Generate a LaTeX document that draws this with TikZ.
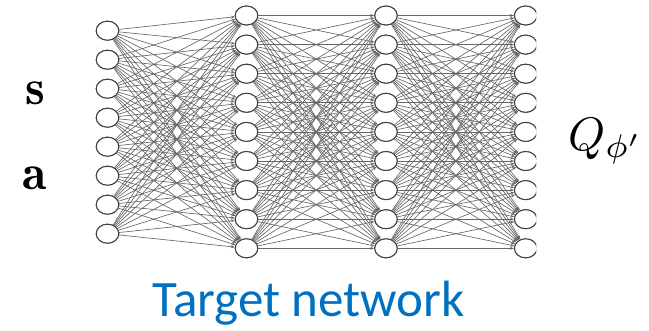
\documentclass[tikz,border=0pt]{standalone}
\usepackage{fontspec}
\usepackage{amsmath}
\usepackage{graphicx}
\newfontfamily\captionfont{Carlito}
\usetikzlibrary{shapes.geometric,arrows.meta}
\definecolor{capblue}{RGB}{0,112,192}
\tikzset{
  neuron/.style={ellipse, draw=black!75, line width=1pt, fill=white,
    minimum width=22.5pt, minimum height=19pt, inner sep=0pt},
  synapse/.style={draw=black!60, line width=0.65pt,
    -{Stealth[length=4pt,width=3pt]}},
}
\begin{document}
\begin{tikzpicture}[x=1pt,y=-1pt]
\useasboundingbox (0,0) rectangle (649,330);
\begin{scope}
  \clip (0,0) rectangle (536,270);
  % input layer (8 units) and three layers of 9 units
  \foreach \i in {1,...,8}
    \node[neuron] (a\i) at (107.5,{30.7+29*(\i-1)}) {};
  \foreach \name/\x in {b/246.5,c/386,d/525.7}
    \foreach \i in {1,...,9}
      \node[neuron] (\name\i) at (\x,{15.5+29.1*(\i-1)}) {};
  % full connections between consecutive layers
  \foreach \i in {1,...,8}
    \foreach \j in {1,...,9}
      \draw[synapse] (a\i) -- (b\j);
  \foreach \s/\t in {b/c,c/d}
    \foreach \i in {1,...,9}
      \foreach \j in {1,...,9}
        \draw[synapse] (\s\i) -- (\t\j);
  % redraw units on top of the connections
  \foreach \i in {1,...,8}
    \node[neuron] at (a\i) {};
  \foreach \name in {b,c,d}
    \foreach \i in {1,...,9}
      \node[neuron] at (\name\i) {};
\end{scope}
\node[font=\fontsize{50}{54}\selectfont] (s) at (35,93) {$\mathbf{s}$};
\node[font=\fontsize{50}{54}\selectfont] (act) at (35,178) {$\mathbf{a}$};
\node[anchor=base west, inner sep=0pt] (q) at (568,150) {\scalebox{4.7}{$Q_{\phi'}$}};
\node[font=\captionfont\fontsize{51}{56}\selectfont, text=capblue, anchor=base west, inner sep=0pt] (cap) at (152,316) {Target network};
\end{tikzpicture}
\end{document}
